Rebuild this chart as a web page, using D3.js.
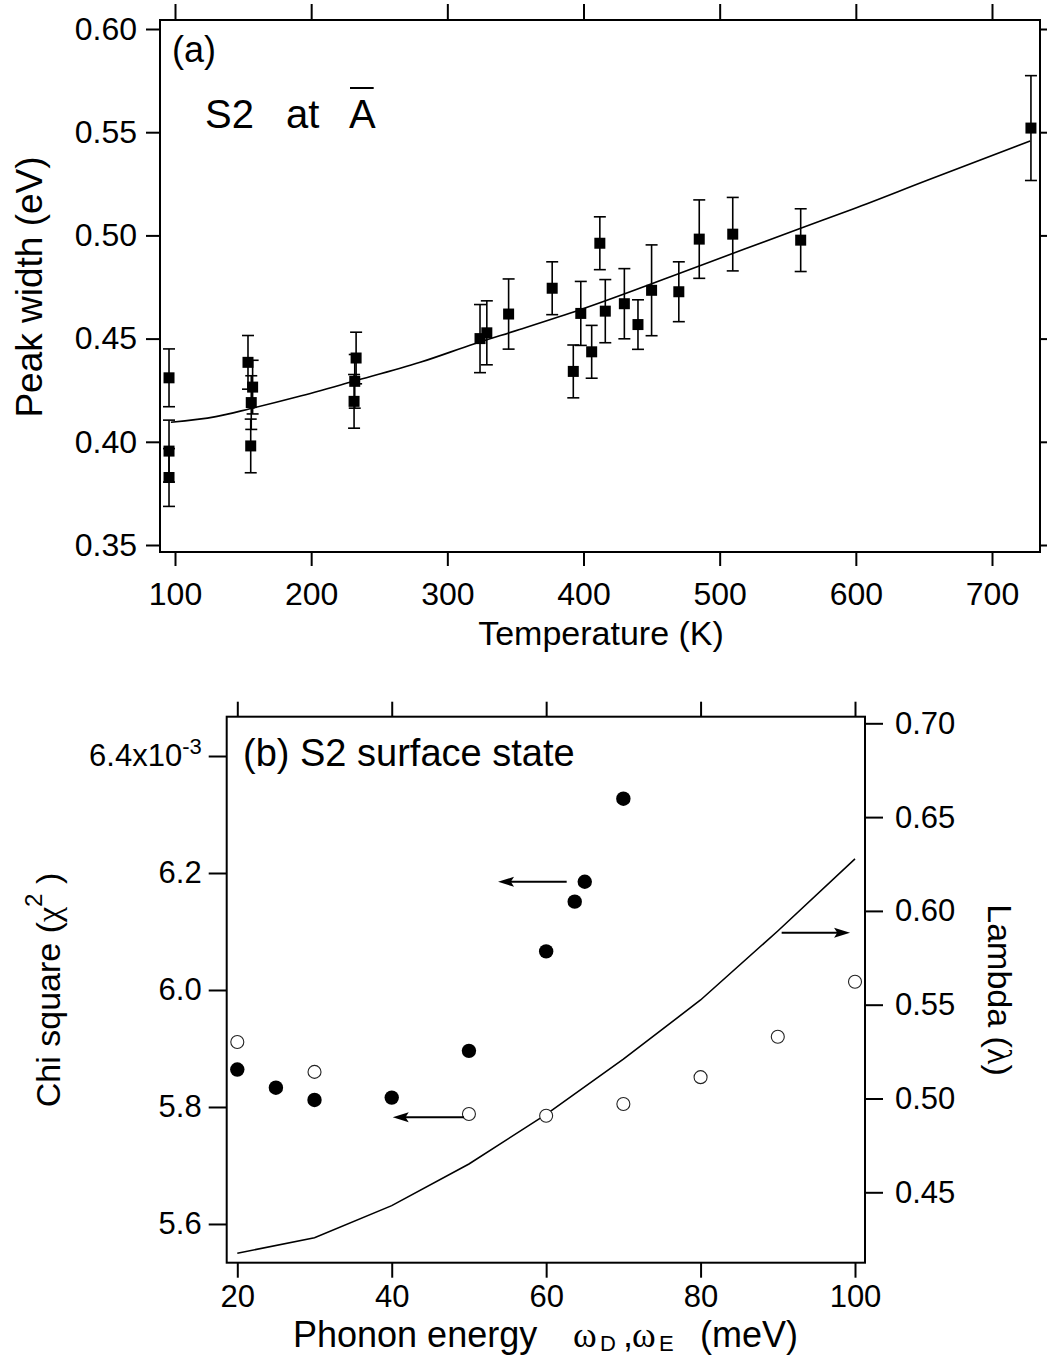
<!DOCTYPE html>
<html><head><meta charset="utf-8">
<script src="https://cdn.jsdelivr.net/npm/d3@7"></script>
<style>
body{margin:0;background:#fff;}
svg{display:block;background:#fff;}
text{font-family:"Liberation Sans",Arial,Helvetica,sans-serif;fill:#000;}
.serif{font-family:"Liberation Serif","Times New Roman",serif;}
</style></head><body>
<svg id="chart" width="1047" height="1357"></svg>
<script>
// ---------- Panel (a) data ----------
const tempK     = [95.6, 95.6, 95.6, 153.6, 157, 156, 155.6, 231.5, 232, 233, 324, 329, 345, 377, 392.5, 398, 406, 412, 416, 430, 440, 450, 470, 485, 509.6, 559.5, 728.6];
const peakWidth = [0.431, 0.3955, 0.3827, 0.4385, 0.4265, 0.419, 0.398, 0.4196, 0.4293, 0.4406, 0.450, 0.4528, 0.4619, 0.4744, 0.4341, 0.4622, 0.4436, 0.4962, 0.4633, 0.4669, 0.4568, 0.4734, 0.4727, 0.4982, 0.5006, 0.4977, 0.552];
const peakErr   = [0.014, 0.015, 0.014, 0.013, 0.013, 0.013, 0.013, 0.013, 0.013, 0.0125, 0.0165, 0.0155, 0.017, 0.0128, 0.0128, 0.0155, 0.0128, 0.0128, 0.0153, 0.017, 0.012, 0.022, 0.0145, 0.019, 0.0178, 0.0152, 0.0254];
const fitTemp   = [97, 130, 155, 190, 231, 280, 320, 353, 398, 485, 559, 598, 652, 728];
const fitWidth  = [0.4095, 0.4122, 0.416, 0.4218, 0.4293, 0.4385, 0.4475, 0.4544, 0.4641, 0.4852, 0.5034, 0.5128, 0.5266, 0.5457];
const aXTicks = [100, 200, 300, 400, 500, 600, 700];
const aYTicks = [0.35, 0.40, 0.45, 0.50, 0.55, 0.60];

// ---------- Panel (b) data ----------
const omegaFilled = [20, 25, 30, 40, 50, 60, 63.7, 65, 70];
const chiFilled   = [5.864, 5.833, 5.812, 5.816, 5.896, 6.066, 6.151, 6.185, 6.327];
const omegaOpen   = [20, 30, 50, 60, 70, 80, 90, 100];
const chiOpen     = [5.911, 5.860, 5.788, 5.785, 5.805, 5.851, 5.920, 6.014];
const omegaLambda = [20, 30, 40, 50, 60, 70, 80, 90, 100];
const lambdaVals  = [0.4175, 0.4258, 0.4429, 0.4651, 0.4915, 0.521, 0.5525, 0.5893, 0.6277];
const bXTicks = [20, 40, 60, 80, 100];
const bYLeftTicks = [5.6, 5.8, 6.0, 6.2, 6.4];
const bYRightTicks = [0.45, 0.50, 0.55, 0.60, 0.65, 0.70];
// arrows: [x0, x1, y] in data units (x1 = arrow tip)
const arrowChiFilled = [62.66, 53.77, 6.185];
const arrowChiOpen   = [49.36, 40.13, 5.7824];
const arrowLambda    = [90.5, 99.36, 0.5884];

const svg = d3.select("#chart");
const FONT = '"Liberation Sans",Arial,Helvetica,sans-serif';

function styleAxis(g, fs){
  g.select(".domain").remove();
  g.attr("font-family", null).attr("font-size", null);
  g.selectAll(".tick line").attr("stroke", "#000").attr("stroke-width", 2);
  g.selectAll(".tick text").attr("font-size", fs).attr("fill", "#000").style("font-family", FONT);
}

// ================= Panel (a) =================
const A = {l:160, r:1040, t:20, b:552};
const xa = d3.scaleLinear().domain([88.98, 735.25]).range([A.l, A.r]);
const ya = d3.scaleLinear().domain([0.34661, 0.60436]).range([A.b, A.t]);

const ga = svg.append("g");
ga.append("g").attr("transform", `translate(0,${A.b})`)
  .call(d3.axisBottom(xa).tickValues(aXTicks).tickSize(14).tickPadding(16).tickFormat(d3.format("d")))
  .call(g => styleAxis(g, 32));
ga.append("g").attr("transform", `translate(0,${A.t})`)
  .call(d3.axisTop(xa).tickValues(aXTicks).tickSize(16).tickFormat(""))
  .call(g => styleAxis(g, 32));
ga.append("g").attr("transform", `translate(${A.l},0)`)
  .call(d3.axisLeft(ya).tickValues(aYTicks).tickSize(14).tickPadding(9).tickFormat(d3.format(".2f")))
  .call(g => styleAxis(g, 32));
ga.append("g").attr("transform", `translate(${A.r},0)`)
  .call(d3.axisRight(ya).tickValues(aYTicks).tickSize(10).tickFormat(""))
  .call(g => styleAxis(g, 32));
ga.append("rect").attr("x", A.l).attr("y", A.t).attr("width", A.r - A.l).attr("height", A.b - A.t)
  .attr("fill", "none").attr("stroke", "#000").attr("stroke-width", 2);

// fit curve
const fitLine = d3.line().x((d, i) => xa(fitTemp[i])).y((d, i) => ya(fitWidth[i])).curve(d3.curveMonotoneX);
ga.append("path").datum(fitTemp).attr("d", fitLine).attr("fill", "none").attr("stroke", "#000").attr("stroke-width", 1.6);

// error bars and squares
const pts = tempK.map((t, i) => ({t, v: peakWidth[i], e: peakErr[i]}));
const eb = ga.append("g").attr("stroke", "#000").attr("stroke-width", 1.6);
pts.forEach(p => {
  const x = xa(p.t), y0 = ya(p.v - p.e), y1 = ya(p.v + p.e);
  eb.append("line").attr("x1", x).attr("x2", x).attr("y1", y0).attr("y2", y1);
  eb.append("line").attr("x1", x - 6).attr("x2", x + 6).attr("y1", y0).attr("y2", y0);
  eb.append("line").attr("x1", x - 6).attr("x2", x + 6).attr("y1", y1).attr("y2", y1);
});
ga.append("g").selectAll("rect").data(pts).join("rect")
  .attr("x", d => xa(d.t) - 5.5).attr("y", d => ya(d.v) - 5.5)
  .attr("width", 11).attr("height", 11).attr("fill", "#000");

// texts
ga.append("text").attr("x", 172).attr("y", 62).attr("font-size", 36).text("(a)");
ga.append("text").attr("x", 205).attr("y", 128).attr("font-size", 40).text("S2");
ga.append("text").attr("x", 286).attr("y", 128).attr("font-size", 40).text("at");
const aText = ga.append("text").attr("x", 349).attr("y", 128).attr("font-size", 40).text("A");
const aw = aText.node().getComputedTextLength();
ga.append("line").attr("x1", 350).attr("x2", 349 + aw - 2).attr("y1", 88).attr("y2", 88)
  .attr("stroke", "#000").attr("stroke-width", 2);

ga.append("text").attr("transform", "translate(42,287) rotate(-90)").attr("text-anchor", "middle")
  .attr("font-size", 37).text("Peak width (eV)");
ga.append("text").attr("x", 601).attr("y", 645).attr("text-anchor", "middle")
  .attr("font-size", 34).text("Temperature (K)");

// ================= Panel (b) =================
const B = {l:226.7, r:865, t:716.7, b:1262.7};
const xb = d3.scaleLinear().domain([18.627, 101.295]).range([B.l, B.r]);
const ybl = d3.scaleLinear().domain([5.5338, 6.4672]).range([B.b, B.t]);
const ybr = d3.scaleLinear().domain([0.41247, 0.70352]).range([B.b, B.t]);

const gb = svg.append("g");
gb.append("g").attr("transform", `translate(0,${B.b})`)
  .call(d3.axisBottom(xb).tickValues(bXTicks).tickSize(15).tickPadding(7).tickFormat(d3.format("d")))
  .call(g => styleAxis(g, 31));
gb.append("g").attr("transform", `translate(0,${B.t})`)
  .call(d3.axisTop(xb).tickValues(bXTicks).tickSize(15).tickFormat(""))
  .call(g => styleAxis(g, 31));
const gl = gb.append("g").attr("transform", `translate(${B.l},0)`)
  .call(d3.axisLeft(ybl).tickValues(bYLeftTicks).tickSize(18).tickPadding(7).tickFormat(d3.format(".1f")))
  .call(g => styleAxis(g, 31));
gl.selectAll(".tick text").filter(d => Math.abs(d - 6.4) < 1e-9).each(function(){
  const t = d3.select(this); t.text("");
  t.append("tspan").text("6.4x10");
  t.append("tspan").attr("font-size", 22).attr("dy", "-0.55em").text("-3");
});
gb.append("g").attr("transform", `translate(${B.r},0)`)
  .call(d3.axisRight(ybr).tickValues(bYRightTicks).tickSize(18).tickPadding(12).tickFormat(d3.format(".2f")))
  .call(g => styleAxis(g, 31));
gb.append("rect").attr("x", B.l).attr("y", B.t).attr("width", B.r - B.l).attr("height", B.b - B.t)
  .attr("fill", "none").attr("stroke", "#000").attr("stroke-width", 2);

// lambda line (right axis)
const lamLine = d3.line().x((d, i) => xb(omegaLambda[i])).y((d, i) => ybr(lambdaVals[i]));
gb.append("path").datum(omegaLambda).attr("d", lamLine).attr("fill", "none").attr("stroke", "#000").attr("stroke-width", 1.6);

// circles
gb.append("g").selectAll("circle").data(omegaOpen).join("circle")
  .attr("cx", d => xb(d)).attr("cy", (d, i) => ybl(chiOpen[i])).attr("r", 6.5)
  .attr("fill", "#fff").attr("stroke", "#222").attr("stroke-width", 1.1);
gb.append("g").selectAll("circle").data(omegaFilled).join("circle")
  .attr("cx", d => xb(d)).attr("cy", (d, i) => ybl(chiFilled[i])).attr("r", 7.2)
  .attr("fill", "#000");

// arrows
function arrow(x0, x1, y){
  const dir = x1 > x0 ? 1 : -1;
  const hl = 16, hw = 5;
  gb.append("line").attr("x1", x0).attr("x2", x1 - dir * hl * 0.6).attr("y1", y).attr("y2", y)
    .attr("stroke", "#000").attr("stroke-width", 2);
  gb.append("path").attr("d", `M${x1},${y} L${x1 - dir * hl},${y - hw} L${x1 - dir * hl * 0.8},${y} L${x1 - dir * hl},${y + hw} Z`)
    .attr("fill", "#000");
}
arrow(xb(arrowChiFilled[0]), xb(arrowChiFilled[1]), ybl(arrowChiFilled[2]));
arrow(xb(arrowChiOpen[0]), xb(arrowChiOpen[1]), ybl(arrowChiOpen[2]));
arrow(xb(arrowLambda[0]), xb(arrowLambda[1]), ybr(arrowLambda[2]));

// texts
gb.append("text").attr("x", 243).attr("y", 766).attr("font-size", 38).text("(b) S2 surface state");

const chiT = gb.append("text").attr("transform", "translate(60,990) rotate(-90)").attr("text-anchor", "middle").attr("font-size", 34);
chiT.append("tspan").text("Chi square (");
chiT.append("tspan").attr("class", "serif").style("font-family", '"Liberation Serif",serif').text("\u03C7");
chiT.append("tspan").attr("font-size", 24).attr("dy", "-0.75em").text("2");
chiT.append("tspan").attr("dy", "0.53em").text(" )");

const lamT = gb.append("text").attr("transform", "translate(988,990) rotate(90)").attr("text-anchor", "middle").attr("font-size", 34);
lamT.append("tspan").text("Lambda (");
lamT.append("tspan").style("font-family", '"Liberation Serif",serif').text("\u03BB");
lamT.append("tspan").text(")");

gb.append("text").attr("x", 293).attr("y", 1347).attr("font-size", 36).text("Phonon energy");
gb.append("text").attr("x", 573).attr("y", 1347).attr("font-size", 36).style("font-family", '"Liberation Serif",serif').text("\u03C9");
gb.append("text").attr("x", 600).attr("y", 1351).attr("font-size", 22).text("D");
gb.append("text").attr("x", 623).attr("y", 1347).attr("font-size", 36).text(",");
gb.append("text").attr("x", 632).attr("y", 1347).attr("font-size", 36).style("font-family", '"Liberation Serif",serif').text("\u03C9");
gb.append("text").attr("x", 659).attr("y", 1351).attr("font-size", 22).text("E");
gb.append("text").attr("x", 700).attr("y", 1347).attr("font-size", 36).text("(meV)");
</script>
</body></html>
